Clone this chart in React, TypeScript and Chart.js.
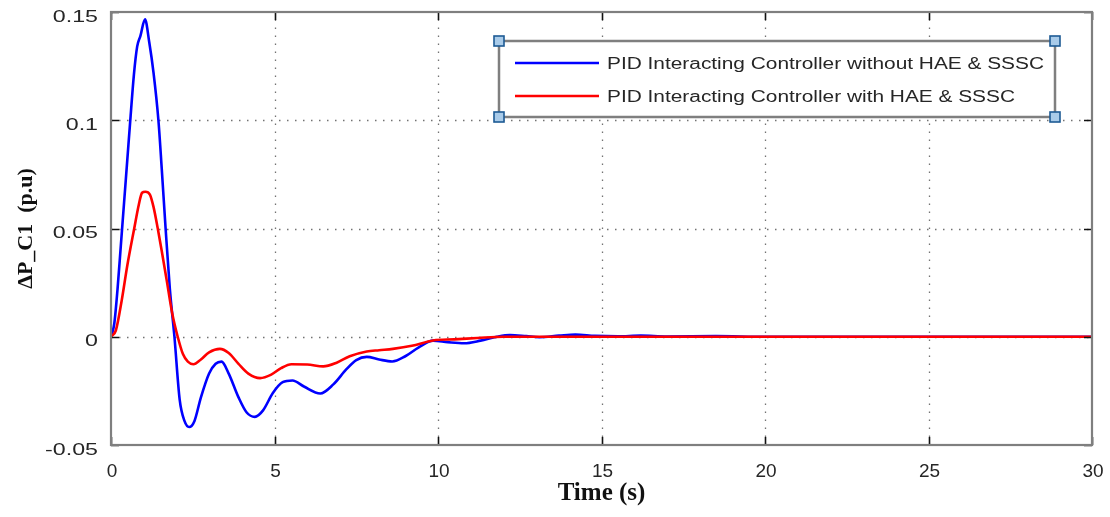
import React, { useEffect, useRef } from "react";
import { Chart, registerables } from "chart.js";

Chart.register(...registerables);

// Time (s) samples and values
const blueTime = [0, 0.1, 0.2, 0.3, 0.4, 0.5, 0.6, 0.7, 0.8, 0.9, 1.04, 1.17, 1.3, 1.45, 1.55, 1.67, 1.8, 1.94, 2.1, 2.25, 2.39, 2.55, 2.75, 3.0, 3.2, 3.38, 3.6, 3.9, 4.15, 4.4, 4.65, 4.95, 5.25, 5.55, 5.9, 6.4, 6.8, 7.2, 7.5, 7.82, 8.2, 8.6, 9.0, 9.4, 9.85, 10.3, 10.8, 11.3, 11.8, 12.2, 12.7, 13.1, 13.7, 14.2, 14.8, 15.5, 16.2, 17, 18.5, 20, 30];
const blueValues = [0, 0.006, 0.022, 0.042, 0.062, 0.082, 0.102, 0.121, 0.134, 0.139, 0.1466, 0.136, 0.122, 0.1, 0.078, 0.05, 0.022, 0, -0.029, -0.039, -0.0417, -0.039, -0.028, -0.017, -0.0125, -0.0115, -0.017, -0.028, -0.035, -0.037, -0.034, -0.026, -0.021, -0.0202, -0.023, -0.0262, -0.022, -0.015, -0.0108, -0.0093, -0.0105, -0.0114, -0.009, -0.005, -0.0018, -0.0025, -0.003, -0.0018, 0, 0.0008, 0.0003, -0.0002, 0.0005, 0.001, 0.0004, 0.0002, 0.0005, 0.0001, 0.0003, 0, 0];

const redTime = [0, 0.15, 0.33, 0.5, 0.71, 0.85, 0.95, 1.05, 1.19, 1.3, 1.43, 1.57, 1.7, 1.87, 2.04, 2.2, 2.35, 2.52, 2.75, 3.0, 3.33, 3.6, 3.9, 4.2, 4.56, 4.9, 5.2, 5.52, 6.0, 6.49, 6.9, 7.3, 7.82, 8.2, 8.62, 9.2, 9.85, 10.5, 11.2, 12, 30];
const redValues = [0, 0.003, 0.017, 0.033, 0.05, 0.061, 0.0665, 0.067, 0.0657, 0.06, 0.05, 0.038, 0.0264, 0.011, 0, -0.008, -0.0115, -0.0127, -0.0105, -0.0072, -0.0056, -0.0075, -0.0125, -0.017, -0.0191, -0.0175, -0.0145, -0.0127, -0.0128, -0.0137, -0.012, -0.009, -0.0068, -0.0062, -0.0056, -0.0042, -0.0017, -0.0012, -0.0006, 0, 0];

const seriesLabels = [
  "PID Interacting Controller without HAE & SSSC",
  "PID Interacting Controller with HAE & SSSC",
];
const seriesColors = ["#0000ff", "#ff0000"];

const xMin = 0, xMax = 30, xStep = 5;
const yMin = -0.05, yMax = 0.15, yStep = 0.05;
const xTitle = "Time (s)";
const yTitle = "ΔP_C1  (p.u)";

const fmt = (v: number) => String(parseFloat(v.toFixed(4)));

const framePlugin = {
  id: "matlabFrame",
  beforeDatasetsDraw(chart: any) {
    const { ctx, chartArea: a, scales } = chart;
    ctx.save();
    ctx.strokeStyle = "rgba(90,90,90,0.85)";
    ctx.lineWidth = 1.3;
    ctx.setLineDash([1.5, 6.5]);
    scales.x.ticks.forEach((t: any) => {
      if (t.value <= xMin || t.value >= xMax) return;
      const px = Math.round(scales.x.getPixelForValue(t.value)) + 0.5;
      ctx.beginPath();
      ctx.moveTo(px, a.bottom);
      ctx.lineTo(px, a.top);
      ctx.stroke();
    });
    scales.y.ticks.forEach((t: any) => {
      if (t.value <= yMin + 1e-9 || t.value >= yMax - 1e-9) return;
      const py = Math.round(scales.y.getPixelForValue(t.value)) + 0.5;
      ctx.beginPath();
      ctx.moveTo(a.left, py);
      ctx.lineTo(a.right, py);
      ctx.stroke();
    });
    ctx.restore();
  },
  afterDatasetsDraw(chart: any) {
    const { ctx, chartArea: a, scales } = chart;
    ctx.save();
    ctx.setLineDash([]);
    // tick marks
    ctx.strokeStyle = "#111";
    ctx.lineWidth = 1.6;
    const tl = 8;
    scales.x.ticks.forEach((t: any) => {
      const px = Math.round(scales.x.getPixelForValue(t.value)) + 0.5;
      ctx.beginPath();
      ctx.moveTo(px, a.bottom); ctx.lineTo(px, a.bottom - tl);
      ctx.moveTo(px, a.top); ctx.lineTo(px, a.top + tl);
      ctx.stroke();
    });
    scales.y.ticks.forEach((t: any) => {
      const py = Math.round(scales.y.getPixelForValue(t.value)) + 0.5;
      ctx.beginPath();
      ctx.moveTo(a.left, py); ctx.lineTo(a.left + tl, py);
      ctx.moveTo(a.right, py); ctx.lineTo(a.right - tl, py);
      ctx.stroke();
    });
    // box
    ctx.strokeStyle = "#7f7f7f";
    ctx.lineWidth = 2.2;
    ctx.strokeRect(a.left, a.top, a.right - a.left, a.bottom - a.top);

    // tick labels
    ctx.fillStyle = "#262626";
    ctx.font = "16px 'Liberation Sans', Arial, sans-serif";
    ctx.textAlign = "right";
    ctx.textBaseline = "alphabetic";
    scales.y.ticks.forEach((t: any) => {
      const py = scales.y.getPixelForValue(t.value);
      ctx.save();
      ctx.translate(a.left - 13, py + 9.5);
      ctx.scale(1.45, 1);
      ctx.fillText(fmt(t.value), 0, 0);
      ctx.restore();
    });
    ctx.font = "19px 'Liberation Sans', Arial, sans-serif";
    ctx.textAlign = "center";
    scales.x.ticks.forEach((t: any) => {
      const px = scales.x.getPixelForValue(t.value);
      ctx.fillText(fmt(t.value), px + 1, a.bottom + 32);
    });

    // axis titles
    ctx.fillStyle = "#111";
    ctx.font = "bold 25px 'Liberation Serif', 'Times New Roman', serif";
    ctx.fillText(xTitle, (a.left + a.right) / 2, a.bottom + 55);
    ctx.save();
    ctx.translate(32, (a.top + a.bottom) / 2 + 0);
    ctx.rotate(-Math.PI / 2);
    ctx.font = "bold 22px 'Liberation Serif', 'Times New Roman', serif";
    ctx.textAlign = "center";
    ctx.fillText(yTitle, 0, 0);
    ctx.restore();

    // legend
    const L = 499, R = 1055, T = 41, B = 117;
    ctx.fillStyle = "#ffffff";
    ctx.fillRect(L, T, R - L, B - T);
    ctx.strokeStyle = "#7f7f7f";
    ctx.lineWidth = 2.5;
    ctx.strokeRect(L, T, R - L, B - T);
    const rows = [63, 96];
    ctx.font = "16px 'Liberation Sans', Arial, sans-serif";
    ctx.textAlign = "left";
    const w0 = ctx.measureText(seriesLabels[0]).width;
    const sx = 437 / w0;
    seriesLabels.forEach((lab, i) => {
      ctx.strokeStyle = seriesColors[i];
      ctx.lineWidth = 2.5;
      ctx.beginPath();
      ctx.moveTo(515, rows[i]);
      ctx.lineTo(599, rows[i]);
      ctx.stroke();
      ctx.fillStyle = "#262626";
      ctx.save();
      ctx.translate(607, rows[i] + 6);
      ctx.scale(sx, 1);
      ctx.fillText(lab, 0, 0);
      ctx.restore();
    });
    // selection handles
    [[L, T], [R, T], [L, B], [R, B]].forEach(([hx, hy]) => {
      ctx.fillStyle = "#a9cbe9";
      ctx.fillRect(hx - 5, hy - 5, 10, 10);
      ctx.strokeStyle = "#1d5a94";
      ctx.lineWidth = 1.6;
      ctx.strokeRect(hx - 5, hy - 5, 10, 10);
    });
    ctx.restore();
  },
};

export default function App() {
  const ref = useRef<HTMLCanvasElement>(null);
  useEffect(() => {
    document.body.style.margin = "0";
    document.body.style.overflow = "hidden";
    const canvas = ref.current!;
    const toPts = (xs: number[], ys: number[]) => xs.map((x, i) => ({ x, y: ys[i] }));
    const chart = new Chart(canvas, {
      type: "line",
      data: {
        datasets: [
          {
            label: seriesLabels[0],
            data: toPts(blueTime, blueValues),
            borderColor: seriesColors[0],
            borderWidth: 2.6,
            pointRadius: 0,
            cubicInterpolationMode: "monotone",
            fill: false,
            order: 1,
          },
          {
            label: seriesLabels[1],
            data: toPts(redTime, redValues),
            borderColor: seriesColors[1],
            borderWidth: 2.6,
            pointRadius: 0,
            cubicInterpolationMode: "monotone",
            fill: false,
            order: 0,
          },
        ],
      },
      options: {
        animation: false,
        responsive: false,
        maintainAspectRatio: false,
        devicePixelRatio: 1,
        layout: { padding: { left: 0, right: 18, top: 12, bottom: 0 } },
        plugins: { legend: { display: false }, tooltip: { enabled: false } },
        scales: {
          x: {
            type: "linear",
            min: xMin,
            max: xMax,
            ticks: { stepSize: xStep, display: false },
            grid: { display: false },
            border: { display: false },
            afterFit: (s: any) => { s.height = 72; },
          },
          y: {
            type: "linear",
            min: yMin,
            max: yMax,
            ticks: { stepSize: yStep, display: false },
            grid: { display: false },
            border: { display: false },
            afterFit: (s: any) => { s.width = 111; },
          },
        },
      },
      plugins: [framePlugin],
    } as any);
    return () => chart.destroy();
  }, []);
  return (
    <canvas ref={ref} width={1110} height={517} style={{ display: "block", width: 1110, height: 517 }} />
  );
}
